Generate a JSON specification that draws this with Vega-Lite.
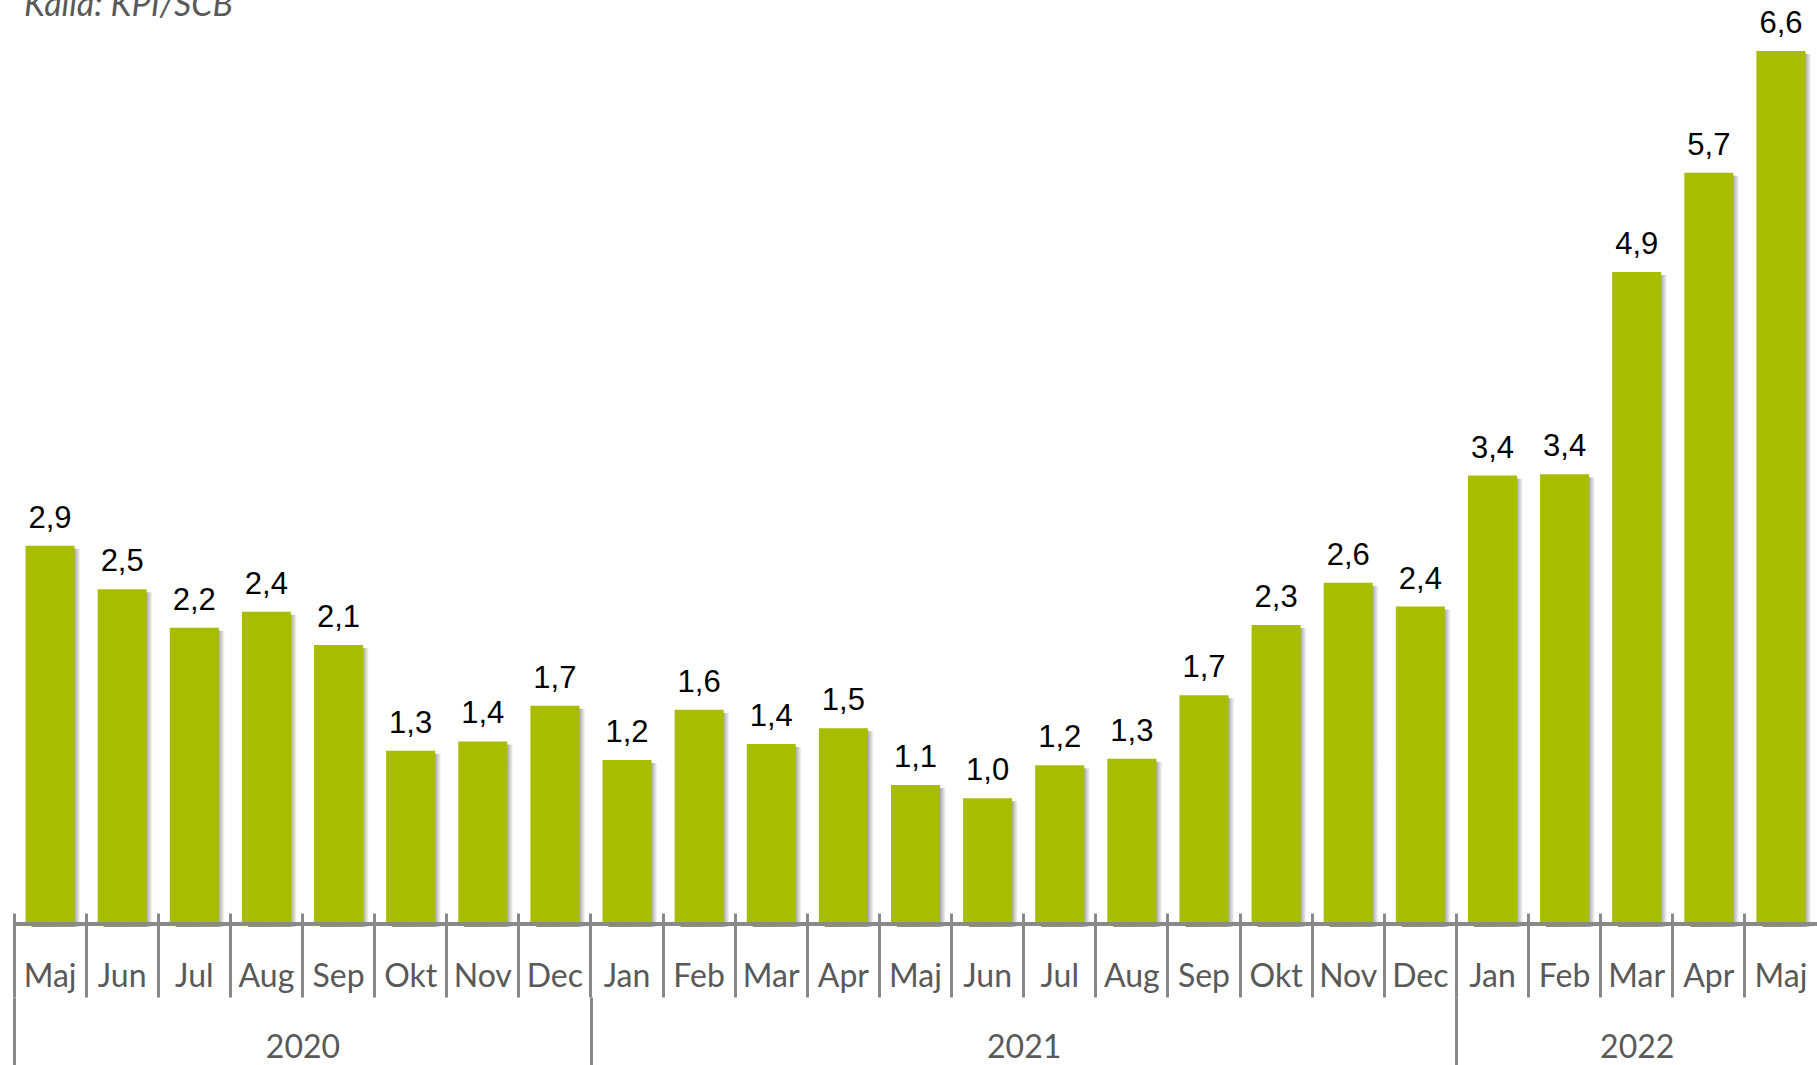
{
  "$schema": "https://vega.github.io/schema/vega-lite/v6.json",
  "autosize": "none",
  "width": 1803,
  "height": 873,
  "padding": {"left": 14, "top": 51, "right": 0, "bottom": 141},
  "background": "white",
  "title": {
    "text": "Källa: KPI/SCB",
    "anchor": "start",
    "frame": "group",
    "orient": "top",
    "font": "Lato",
    "fontStyle": "italic",
    "fontWeight": "normal",
    "fontSize": 34,
    "color": "#595959",
    "baseline": "alphabetic",
    "offset": -42,
    "dx": 10
  },
  "config": {"view": {"stroke": null}},
  "data": {
    "values": [
      {"key": "Maj 2020", "idx": 0, "value": 2.86, "label": "2,9"},
      {"key": "Jun 2020", "idx": 1, "value": 2.53, "label": "2,5"},
      {"key": "Jul 2020", "idx": 2, "value": 2.24, "label": "2,2"},
      {"key": "Aug 2020", "idx": 3, "value": 2.36, "label": "2,4"},
      {"key": "Sep 2020", "idx": 4, "value": 2.11, "label": "2,1"},
      {"key": "Okt 2020", "idx": 5, "value": 1.31, "label": "1,3"},
      {"key": "Nov 2020", "idx": 6, "value": 1.38, "label": "1,4"},
      {"key": "Dec 2020", "idx": 7, "value": 1.65, "label": "1,7"},
      {"key": "Jan 2021", "idx": 8, "value": 1.24, "label": "1,2"},
      {"key": "Feb 2021", "idx": 9, "value": 1.62, "label": "1,6"},
      {"key": "Mar 2021", "idx": 10, "value": 1.36, "label": "1,4"},
      {"key": "Apr 2021", "idx": 11, "value": 1.48, "label": "1,5"},
      {"key": "Maj 2021", "idx": 12, "value": 1.05, "label": "1,1"},
      {"key": "Jun 2021", "idx": 13, "value": 0.95, "label": "1,0"},
      {"key": "Jul 2021", "idx": 14, "value": 1.2, "label": "1,2"},
      {"key": "Aug 2021", "idx": 15, "value": 1.25, "label": "1,3"},
      {"key": "Sep 2021", "idx": 16, "value": 1.73, "label": "1,7"},
      {"key": "Okt 2021", "idx": 17, "value": 2.26, "label": "2,3"},
      {"key": "Nov 2021", "idx": 18, "value": 2.58, "label": "2,6"},
      {"key": "Dec 2021", "idx": 19, "value": 2.4, "label": "2,4"},
      {"key": "Jan 2022", "idx": 20, "value": 3.39, "label": "3,4"},
      {"key": "Feb 2022", "idx": 21, "value": 3.4, "label": "3,4"},
      {"key": "Mar 2022", "idx": 22, "value": 4.93, "label": "4,9"},
      {"key": "Apr 2022", "idx": 23, "value": 5.68, "label": "5,7"},
      {"key": "Maj 2022", "idx": 24, "value": 6.6, "label": "6,6"}
    ]
  },
  "layer": [
    {
      "encoding": {
        "x": {
          "field": "key",
          "type": "nominal",
          "sort": {"field": "idx"},
          "scale": {"paddingInner": 0, "paddingOuter": 0},
          "axis": {
            "title": null,
            "bandPosition": 0,
            "domain": false,
            "ticks": true,
            "tickSize": 84,
            "tickWidth": 3,
            "tickColor": "#898989",
            "offset": -11,
            "labelAngle": 0,
            "labelExpr": "split(datum.label, ' ')[0]",
            "labelFont": "Lato",
            "labelFontSize": 32,
            "labelColor": "#595959",
            "labelBaseline": "alphabetic",
            "labelPadding": -11,
            "grid": false
          }
        },
        "y": {
          "field": "value",
          "type": "quantitative",
          "scale": {"domain": [0, 6.6], "nice": false, "zero": true},
          "axis": null
        }
      },
      "layer": [
        {
          "mark": {
            "type": "bar",
            "width": {"band": 0.68},
            "xOffset": 6,
            "yOffset": 3,
            "fill": {
              "gradient": "linear",
              "x1": 0, "y1": 0, "x2": 1, "y2": 0,
              "stops": [
                {"offset": 0, "color": "#8a8a8a"},
                {"offset": 0.86, "color": "#9c9c9c"},
                {"offset": 1, "color": "#ffffff"}
              ]
            }
          }
        },
        {
          "mark": {"type": "bar", "width": {"band": 0.68}, "color": "#A9BD00"}
        },
        {
          "mark": {
            "type": "text",
            "font": "Liberation Sans",
            "fontSize": 31,
            "color": "#000000",
            "baseline": "alphabetic",
            "dy": -18
          },
          "encoding": {"text": {"field": "label", "type": "nominal"}}
        },
        {
          "mark": {"type": "rule", "color": "#898989", "strokeWidth": 4},
          "encoding": {"y": {"datum": 0}, "x": null}
        }
      ]
    },
    {
      "mark": {"type": "rule", "opacity": 0},
      "encoding": {
        "x": {
          "field": "idx",
          "type": "quantitative",
          "scale": {"domain": [0, 25], "nice": false, "zero": false},
          "axis": {
            "title": null,
            "orient": "bottom",
            "values": [0, 8, 20],
            "labels": false,
            "domain": false,
            "ticks": true,
            "tickSize": 68,
            "tickWidth": 3,
            "tickColor": "#898989",
            "offset": 73,
            "grid": false
          }
        }
      }
    },
    {
      "mark": {"type": "rule", "opacity": 0},
      "encoding": {
        "x": {
          "field": "idx",
          "type": "quantitative",
          "scale": {"domain": [0, 25], "nice": false, "zero": false},
          "axis": {
            "title": null,
            "orient": "bottom",
            "values": [4, 14, 22.5],
            "labelExpr": "datum.value < 8 ? '2020' : datum.value < 20 ? '2021' : '2022'",
            "labelFlush": false,
            "labelOverlap": false,
            "domain": false,
            "ticks": false,
            "offset": 73,
            "labelPadding": 60,
            "labelBaseline": "alphabetic",
            "labelFont": "Lato",
            "labelFontSize": 32,
            "labelColor": "#595959",
            "grid": false
          }
        }
      }
    }
  ],
  "resolve": {"scale": {"x": "independent"}, "axis": {"x": "independent"}}
}
